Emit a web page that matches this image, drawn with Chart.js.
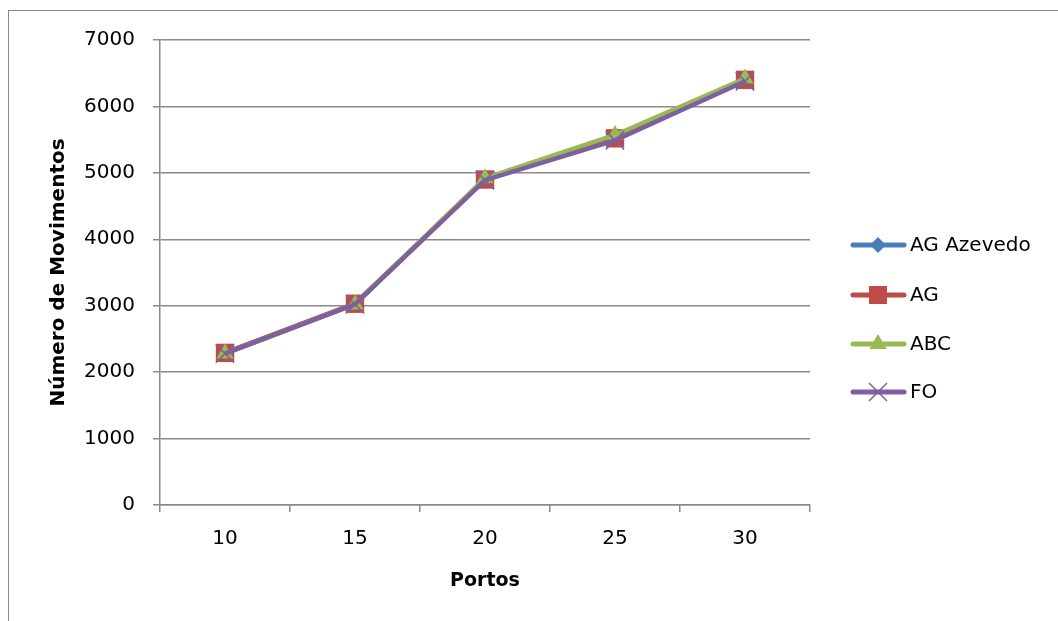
<!DOCTYPE html>
<html>
<head>
<meta charset="utf-8">
<script src="https://cdn.jsdelivr.net/npm/chart.js@4"></script>
<style>
  html, body { margin: 0; padding: 0; background: #fff; overflow: hidden; }
  #frame {
    position: absolute; left: 8px; top: 10px; width: 1200px; height: 800px;
    border-top: 1.5px solid #8a8a8a; border-left: 1.5px solid #8a8a8a;
  }
  #chart { position: absolute; left: 0; top: 0; }
</style>
</head>
<body>
<div id="frame"></div>
<canvas id="chart" width="1058" height="621"></canvas>
<script>
// ================= DATA =================
const portos = ['10', '15', '20', '25', '30'];
const agAzevedo = [2290, 3030, 4900, 5520, 6400];
const ag = [2290, 3030, 4900, 5520, 6400];
const abc = [2280, 3020, 4920, 5570, 6420];
const fo = [2280, 3020, 4890, 5490, 6380];
const yTicks = [0, 1000, 2000, 3000, 4000, 5000, 6000, 7000];

const FONT = '"DejaVu Sans", "Liberation Sans", sans-serif';
const GRID = '#8a8a8a';

// Series look (Excel 2007 defaults)
const seriesStyle = [
    { label: 'AG Azevedo', color: '#4A7EBB', marker: 'rectRot', radius: 9 },
    { label: 'AG', color: '#BE4B48', marker: 'rect', radius: 13 },
    { label: 'ABC', color: '#98B954', marker: 'triangle', radius: 10 },
    { label: 'FO', color: '#7D60A0', marker: 'crossRot', radius: 13 }
];
const seriesData = [agAzevedo, ag, abc, fo];

// ================= LEGEND (line + marker, like Excel) =================
function drawLegendMarker(ctx, s, x, y) {
    ctx.save();
    ctx.fillStyle = s.color;
    ctx.strokeStyle = s.color;
    ctx.beginPath();
    if (s.marker === 'rect') {
        const h = 9;
        ctx.rect(x - h, y - h, 2 * h, 2 * h);
        ctx.fill();
    } else if (s.marker === 'rectRot') {
        const h = 8;
        ctx.moveTo(x, y - h); ctx.lineTo(x + h, y); ctx.lineTo(x, y + h); ctx.lineTo(x - h, y);
        ctx.closePath();
        ctx.fill();
    } else if (s.marker === 'triangle') {
        const r = 10;
        ctx.moveTo(x, y - r);
        ctx.lineTo(x + r * 0.866, y + r / 2);
        ctx.lineTo(x - r * 0.866, y + r / 2);
        ctx.closePath();
        ctx.fill();
    } else {
        const h = 9;
        ctx.lineWidth = 1.5;
        ctx.moveTo(x - h, y - h); ctx.lineTo(x + h, y + h);
        ctx.moveTo(x + h, y - h); ctx.lineTo(x - h, y + h);
        ctx.stroke();
    }
    ctx.restore();
}

const excelLegend = {
    id: 'excelLegend',
    afterDraw(chart) {
        const ctx = chart.ctx;
        const rows = [245, 295, 344, 392];
        seriesStyle.forEach((s, i) => {
            const y = rows[i];
            ctx.save();
            ctx.strokeStyle = s.color;
            ctx.lineWidth = 5;
            ctx.lineCap = 'round';
            ctx.beginPath();
            ctx.moveTo(853, y);
            ctx.lineTo(904, y);
            ctx.stroke();
            ctx.restore();
            drawLegendMarker(ctx, s, 878, y);
            ctx.save();
            ctx.fillStyle = '#000';
            ctx.font = '20px ' + FONT;
            ctx.textBaseline = 'middle';
            ctx.textAlign = 'left';
            ctx.fillText(s.label, 910, y + 1);
            ctx.restore();
        });
    }
};

// ================= CHART =================
const datasets = seriesStyle.map((s, i) => ({
    label: s.label,
    data: seriesData[i],
    borderColor: s.color,
    backgroundColor: s.color,
    borderWidth: 4.5,
    pointStyle: s.marker,
    pointRadius: s.radius,
    pointHoverRadius: s.radius,
    pointBorderWidth: s.marker === 'crossRot' ? 1.5 : 0,
    pointBorderColor: s.color,
    pointBackgroundColor: s.color,
    tension: 0,
    order: seriesStyle.length - 1 - i   // last series on top
}));

new Chart(document.getElementById('chart'), {
    type: 'line',
    data: { labels: portos, datasets: datasets },
    options: {
        responsive: false,
        devicePixelRatio: 1,
        animation: false,
        layout: { padding: { left: 0, top: 40, right: 248, bottom: 0 } },
        plugins: { legend: { display: false }, tooltip: { enabled: false } },
        scales: {
            x: {
                type: 'category',
                offset: true,
                afterFit(scale) { scale.height = 116; },
                grid: { offset: true, drawOnChartArea: false, drawTicks: true, tickLength: 7, color: GRID, lineWidth: 1.5 },
                border: { color: GRID, width: 1.5 },
                ticks: { color: '#000', font: { family: FONT, size: 20 }, padding: 15 },
                title: {
                    display: true, text: 'Portos', color: '#000',
                    font: { family: FONT, size: 19, weight: 'bold' },
                    padding: { top: 0, bottom: 29 }
                }
            },
            y: {
                min: 0, max: 7000,
                afterFit(scale) { scale.width = 160; },
                afterBuildTicks(scale) { scale.ticks = yTicks.map(v => ({ value: v })); },
                grid: { color: GRID, lineWidth: 1.5, tickLength: 7 },
                border: { color: GRID, width: 1.5 },
                ticks: {
                    color: '#000', font: { family: FONT, size: 20 }, padding: 18,
                    callback: v => String(v)
                },
                title: {
                    display: true, text: 'Número de Movimentos', color: '#000',
                    font: { family: FONT, size: 20, weight: 'bold' },
                    padding: { top: 47, bottom: 0 }
                }
            }
        }
    },
    plugins: [excelLegend]
});
</script>
</body>
</html>
